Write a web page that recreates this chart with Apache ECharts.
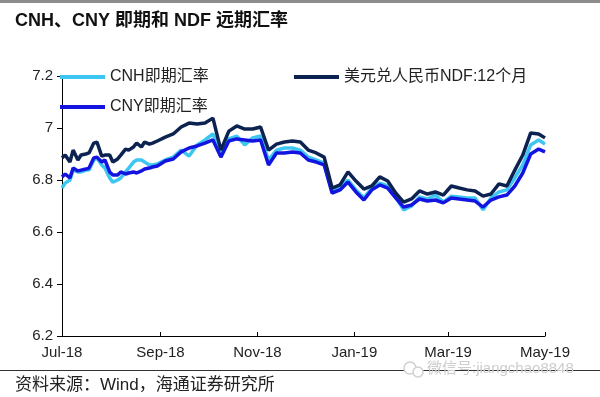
<!DOCTYPE html>
<html>
<head>
<meta charset="utf-8">
<script src="https://cdn.jsdelivr.net/npm/echarts@6/dist/echarts.min.js"></script>
<style>
  html, body { margin: 0; padding: 0; background: #fff; }
  #chart { width: 600px; height: 397px; }
</style>
</head>
<body>
<div id="chart"></div>
<script>
// 日期
const dates = [
  '2018-07-01', '2018-07-03', '2018-07-06', '2018-07-08', '2018-07-11', '2018-07-13', '2018-07-16',
  '2018-07-18', '2018-07-21', '2018-07-23', '2018-07-26', '2018-07-28', '2018-07-31',
  '2018-08-02', '2018-08-05', '2018-08-07', '2018-08-10', '2018-08-12', '2018-08-15',
  '2018-08-17', '2018-08-20', '2018-08-22', '2018-08-25', '2018-08-27', '2018-08-30',
  '2018-09-04', '2018-09-09', '2018-09-14', '2018-09-19', '2018-09-24', '2018-09-29',
  '2018-10-04', '2018-10-09', '2018-10-14', '2018-10-19', '2018-10-24', '2018-10-29',
  '2018-11-03', '2018-11-08', '2018-11-13', '2018-11-18', '2018-11-23', '2018-11-28',
  '2018-12-03', '2018-12-08', '2018-12-13', '2018-12-18', '2018-12-23', '2018-12-28',
  '2019-01-02', '2019-01-07', '2019-01-12', '2019-01-17', '2019-01-22', '2019-01-27',
  '2019-02-01', '2019-02-06', '2019-02-11', '2019-02-16', '2019-02-21', '2019-02-26',
  '2019-03-03', '2019-03-08', '2019-03-13', '2019-03-18', '2019-03-23', '2019-03-28',
  '2019-04-02', '2019-04-07', '2019-04-12', '2019-04-17', '2019-04-22', '2019-04-27',
  '2019-05-01'
]

const cnh = [
  6.769, 6.788, 6.800, 6.838, 6.831, 6.831, 6.838, 6.838, 6.877, 6.885,
  6.858, 6.846, 6.808, 6.792, 6.800, 6.808, 6.831, 6.846, 6.869, 6.877,
  6.877, 6.869, 6.858, 6.858, 6.862,
  6.877, 6.888, 6.915, 6.892, 6.935, 6.954, 6.977, 6.908, 6.958, 6.969,
  6.935, 6.962, 6.969, 6.877, 6.915, 6.923, 6.923, 6.915, 6.888, 6.877,
  6.865, 6.754, 6.773, 6.800, 6.762, 6.731, 6.769, 6.788, 6.777, 6.735,
  6.685, 6.700, 6.735, 6.727, 6.742, 6.715, 6.738, 6.735, 6.731, 6.731,
  6.685, 6.731, 6.754, 6.762, 6.808, 6.858, 6.935, 6.954, 6.938
]

const cny = [
  6.812, 6.823, 6.808, 6.846, 6.835, 6.838, 6.842, 6.846, 6.885, 6.888,
  6.869, 6.877, 6.831, 6.819, 6.819, 6.831, 6.823, 6.827, 6.831, 6.827,
  6.835, 6.842, 6.846, 6.850, 6.854,
  6.873, 6.881, 6.908, 6.923, 6.931, 6.942, 6.954, 6.888, 6.950, 6.958,
  6.954, 6.950, 6.954, 6.858, 6.904, 6.904, 6.908, 6.904, 6.877, 6.869,
  6.858, 6.750, 6.762, 6.792, 6.754, 6.723, 6.762, 6.781, 6.769, 6.731,
  6.696, 6.704, 6.727, 6.719, 6.723, 6.712, 6.731, 6.727, 6.723, 6.719,
  6.696, 6.723, 6.735, 6.742, 6.777, 6.827, 6.900, 6.919, 6.908
]

const ndf = [
  6.885, 6.896, 6.869, 6.915, 6.877, 6.896, 6.900, 6.904, 6.942, 6.946,
  6.892, 6.896, 6.896, 6.869, 6.881, 6.896, 6.919, 6.915, 6.927, 6.942,
  6.927, 6.946, 6.938, 6.942, 6.950,
  6.965, 6.977, 7.004, 7.019, 7.015, 7.019, 7.038, 6.915, 6.988, 7.008,
  6.996, 6.996, 7.004, 6.915, 6.938, 6.946, 6.950, 6.946, 6.915, 6.904,
  6.888, 6.769, 6.781, 6.831, 6.796, 6.765, 6.777, 6.812, 6.796, 6.750,
  6.715, 6.727, 6.758, 6.746, 6.754, 6.742, 6.777, 6.769, 6.762, 6.758,
  6.738, 6.746, 6.785, 6.777, 6.838, 6.896, 6.981, 6.977, 6.962
]

// x轴刻度（每两个月）
const tickDates = ['2018-07-01', '2018-09-01', '2018-11-01', '2019-01-01', '2019-03-01', '2019-05-01']
const monthNames = ['Jan', 'Feb', 'Mar', 'Apr', 'May', 'Jun', 'Jul', 'Aug', 'Sep', 'Oct', 'Nov', 'Dec']

const toTime = (s) => echarts.time.parse(s).getTime()
const pair = (arr) => dates.map((d, i) => [toTime(d), arr[i]])
const tickValues = tickDates.map(toTime)

const font = 'Arial, "Liberation Sans", "Noto Sans CJK SC", sans-serif'
const legendText = { fontSize: 16, color: '#222', fontFamily: font }
const legendBase = { icon: 'rect', itemWidth: 45, itemHeight: 4, itemGap: 0, padding: 0, textStyle: legendText }

const chart = echarts.init(document.getElementById('chart'))
chart.setOption({
  animation: false,
  backgroundColor: '#fff',
  title: {
    text: 'CNH、CNY 即期和 NDF 远期汇率',
    left: 10,
    top: 7,
    textStyle: { fontSize: 18, fontWeight: 'bold', color: '#111', fontFamily: font }
  },
  graphic: [
    { type: 'rect', left: 0, top: 0, shape: { width: 600, height: 3 }, style: { fill: '#8c8c8c' } },
    { type: 'rect', left: 0, top: 370, shape: { width: 600, height: 1 }, style: { fill: '#333' } },
    {
      type: 'text', left: 15, top: 377,
      style: { text: '资料来源：Wind，海通证券研究所', fontSize: 17, fill: '#222', fontFamily: font }
    },
    { type: 'circle', shape: { cx: 410, cy: 368, r: 6 }, style: { fill: '#fff', stroke: '#d0d0d0', lineWidth: 1.5 } },
    { type: 'circle', shape: { cx: 418, cy: 372, r: 5 }, style: { fill: '#fff', stroke: '#d0d0d0', lineWidth: 1.5 } },
    {
      type: 'text', left: 427, top: 361,
      style: { text: '微信号:jiangchao8848', fontSize: 15, fill: '#cdcdcd', fontFamily: font }
    }
  ],
  legend: [
    Object.assign({ data: ['CNH即期汇率'], left: 60, top: 69 }, legendBase),
    Object.assign({ data: ['美元兑人民币NDF:12个月'], left: 294, top: 69 }, legendBase),
    Object.assign({ data: ['CNY即期汇率'], left: 60, top: 99 }, legendBase)
  ],
  grid: { left: 62, right: 55, top: 76, bottom: 61 },
  xAxis: {
    type: 'value',
    min: toTime('2018-07-01'),
    max: toTime('2019-05-01'),
    axisLine: { lineStyle: { color: '#000', width: 1 } },
    axisTick: { inside: true, length: 4, customValues: tickValues, lineStyle: { color: '#000' } },
    axisLabel: {
      customValues: tickValues,
      margin: 9,
      fontSize: 15,
      color: '#222',
      fontFamily: font,
      formatter: function (val) {
        const d = new Date(val)
        return monthNames[d.getMonth()] + '-' + String(d.getFullYear()).slice(2)
      }
    },
    splitLine: { show: false }
  },
  yAxis: {
    type: 'value',
    min: 6.2,
    max: 7.2,
    interval: 0.2,
    axisLine: { show: true, lineStyle: { color: '#000', width: 1 } },
    axisTick: { show: true, length: 5, lineStyle: { color: '#000' } },
    axisLabel: { fontSize: 15, color: '#222', fontFamily: font, margin: 9 },
    splitLine: { show: false }
  },
  series: [
    {
      name: 'CNH即期汇率', type: 'line', data: pair(cnh), showSymbol: false,
      lineStyle: { width: 3.5, color: '#3dc6f2' }, itemStyle: { color: '#3dc6f2' }
    },
    {
      name: 'CNY即期汇率', type: 'line', data: pair(cny), showSymbol: false,
      lineStyle: { width: 3.5, color: '#1414e0' }, itemStyle: { color: '#1414e0' }
    },
    {
      name: '美元兑人民币NDF:12个月', type: 'line', data: pair(ndf), showSymbol: false,
      lineStyle: { width: 3.5, color: '#0c2352' }, itemStyle: { color: '#0c2352' }
    }
  ]
})
</script>
</body>
</html>
